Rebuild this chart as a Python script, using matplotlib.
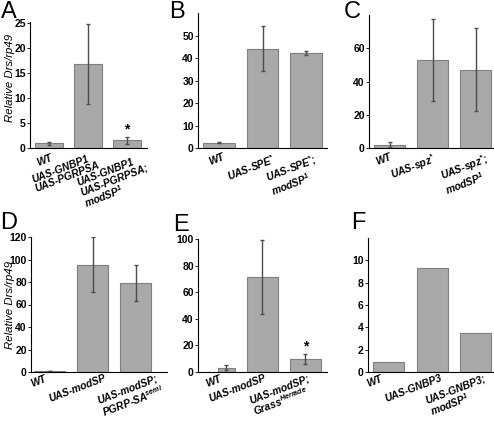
import matplotlib
matplotlib.use("Agg")
import matplotlib.pyplot as plt
from matplotlib.transforms import ScaledTranslation, blended_transform_factory

plt.rcParams['font.family'] = ['Liberation Sans', 'DejaVu Sans']
plt.rcParams['mathtext.fontset'] = 'custom'
plt.rcParams['mathtext.rm'] = 'Liberation Sans:italic:bold'
plt.rcParams['mathtext.it'] = 'Liberation Sans:italic:bold'
plt.rcParams['mathtext.bf'] = 'Liberation Sans:italic:bold'

# Panel data: labels, means, error half-widths (None = no error bars)
labels_a = ['WT', 'UAS-GNBP1\nUAS-PGRPSA', 'UAS-GNBP1\nUAS-PGRPSA;\nmodSP$^{1}$']
values_a = [1.0, 16.8, 1.6]
errors_a = [0.3, 8.0, 0.7]
yticks_a = [0, 5, 10, 15, 20, 25]

labels_b = ['WT', 'UAS-SPE$^{*}$', 'UAS-SPE$^{*}$;\nmodSP$^{1}$']
values_b = [2.3, 44.2, 42.3]
errors_b = [0.2, 10.0, 1.0]
yticks_b = [0, 10, 20, 30, 40, 50]

labels_c = ['WT', 'UAS-spz$^{*}$', 'UAS-spz$^{*}$;\nmodSP$^{1}$']
values_c = [2.0, 53.0, 47.0]
errors_c = [1.5, 24.5, 25.0]
yticks_c = [0, 20, 40, 60]

labels_d = ['WT', 'UAS-modSP', 'UAS-modSP;\nPGRP-SA$^{semi}$']
values_d = [1.0, 95.5, 79.5]
errors_d = [0.3, 24.5, 16.0]
yticks_d = [0, 20, 40, 60, 80, 100, 120]

labels_e = ['WT', 'UAS-modSP', 'UAS-modSP;\nGrass$^{Herrade}$']
values_e = [3.3, 71.5, 10.0]
errors_e = [2.0, 28.0, 3.7]
yticks_e = [0, 20, 40, 60, 80, 100]

labels_f = ['WT', 'UAS-GNBP3', 'UAS-GNBP3;\nmodSP$^{1}$']
values_f = [0.9, 9.3, 3.45]
yticks_f = [0, 2, 4, 6, 8, 10]

W, H = 494, 422
fig = plt.figure(figsize=(W / 100, H / 100), dpi=100)


def px_axes(left, top, right, bottom):
    return fig.add_axes([left / W, 1 - bottom / H, (right - left) / W, (bottom - top) / H])


def panel(box, letter, letter_xy, labels, values, errors, yticks, ylim, xlim,
          label_shift, star=None, ylabel_y=None, xpos=(0, 1, 2), widths=0.72):
    ax = px_axes(*box)
    ax.bar(xpos, values, width=widths, color='#a9a9a9', edgecolor='#7f7f7f',
           linewidth=0.8, zorder=1)
    if errors is not None:
        ax.errorbar(xpos, values, yerr=errors, fmt='none', ecolor='#4d4d4d',
                    elinewidth=1.0, capsize=1.2, capthick=1.0, zorder=2)
    ax.set_xlim(*xlim)
    ax.set_ylim(*ylim)
    ax.set_yticks(yticks)
    ax.set_yticklabels([str(t) for t in yticks], fontsize=7.5, fontweight='bold')
    ax.tick_params(axis='y', direction='out', length=2, width=0.6, pad=1)
    ax.set_xticks([])
    # hand-placed rotated category labels (offsets in pixels)
    trans = blended_transform_factory(ax.transData, ax.transAxes)
    for xp, lab, (dx, dy) in zip(xpos, labels, label_shift):
        off = ScaledTranslation(dx / 100, -dy / 100, fig.dpi_scale_trans)
        ax.text(xp, 0, lab, transform=trans + off, rotation=21, ha='right', va='top',
                rotation_mode='anchor', fontsize=7.4, fontweight='bold',
                fontstyle='italic', multialignment='left', linespacing=1.0,
                clip_on=False)
    for s in ['top', 'right']:
        ax.spines[s].set_visible(False)
    for s in ['left', 'bottom']:
        ax.spines[s].set_linewidth(0.8)
    if star is not None:
        ax.text(xpos[star], values[star] + errors[star], '*', ha='center', va='bottom',
                fontsize=10, fontweight='bold')
    if ylabel_y is not None:
        ax.set_ylabel('Relative Drs/rp49', fontsize=8.2, fontstyle='italic')
        ax.yaxis.set_label_coords((15 - box[0]) / (box[2] - box[0]), ylabel_y)
    fig.text(letter_xy[0] / W, 1 - letter_xy[1] / H, letter, fontsize=17,
             ha='left', va='top')
    return ax


panel((30, 22, 147, 148), 'A', (1, 1), labels_a, values_a, errors_a, yticks_a,
      (0, 25.3), (-0.49, 2.51), [(1, 5), (6, 3), (15, 5)], star=2, ylabel_y=0.56)
panel((198, 13, 327, 148), 'B', (169, 1), labels_b, values_b, errors_b, yticks_b,
      (0, 60), (-0.48, 2.48), [(3, 4), (10, 4), (8, 4)])
panel((369, 15, 493, 148), 'C', (344, 1), labels_c, values_c, errors_c, yticks_c,
      (0, 80), (-0.48, 2.4), [(0, 4), (0, 3), (9, 3)])
panel((31, 237, 167, 372), 'D', (0, 212), labels_d, values_d, errors_d, yticks_d,
      (0, 120), (-0.43, 2.72), [(-5, 2), (11, 1), (21, 1)], ylabel_y=0.5)
panel((198, 239, 327, 372), 'E', (173, 214), labels_e, values_e, errors_e, yticks_e,
      (0, 100), (-0.49, 2.5), [(-7, 2), (2, 1), (2, 1)], star=2,
      xpos=(0.17, 1, 2), widths=(0.4, 0.72, 0.72))
panel((368, 238, 493, 372), 'F', (351, 212), labels_f, values_f, None, yticks_f,
      (0, 12), (-0.48, 2.4), [(-9, 2), (8, 1), (8, 1)])

fig.savefig('out.png', dpi=100, facecolor='white')
